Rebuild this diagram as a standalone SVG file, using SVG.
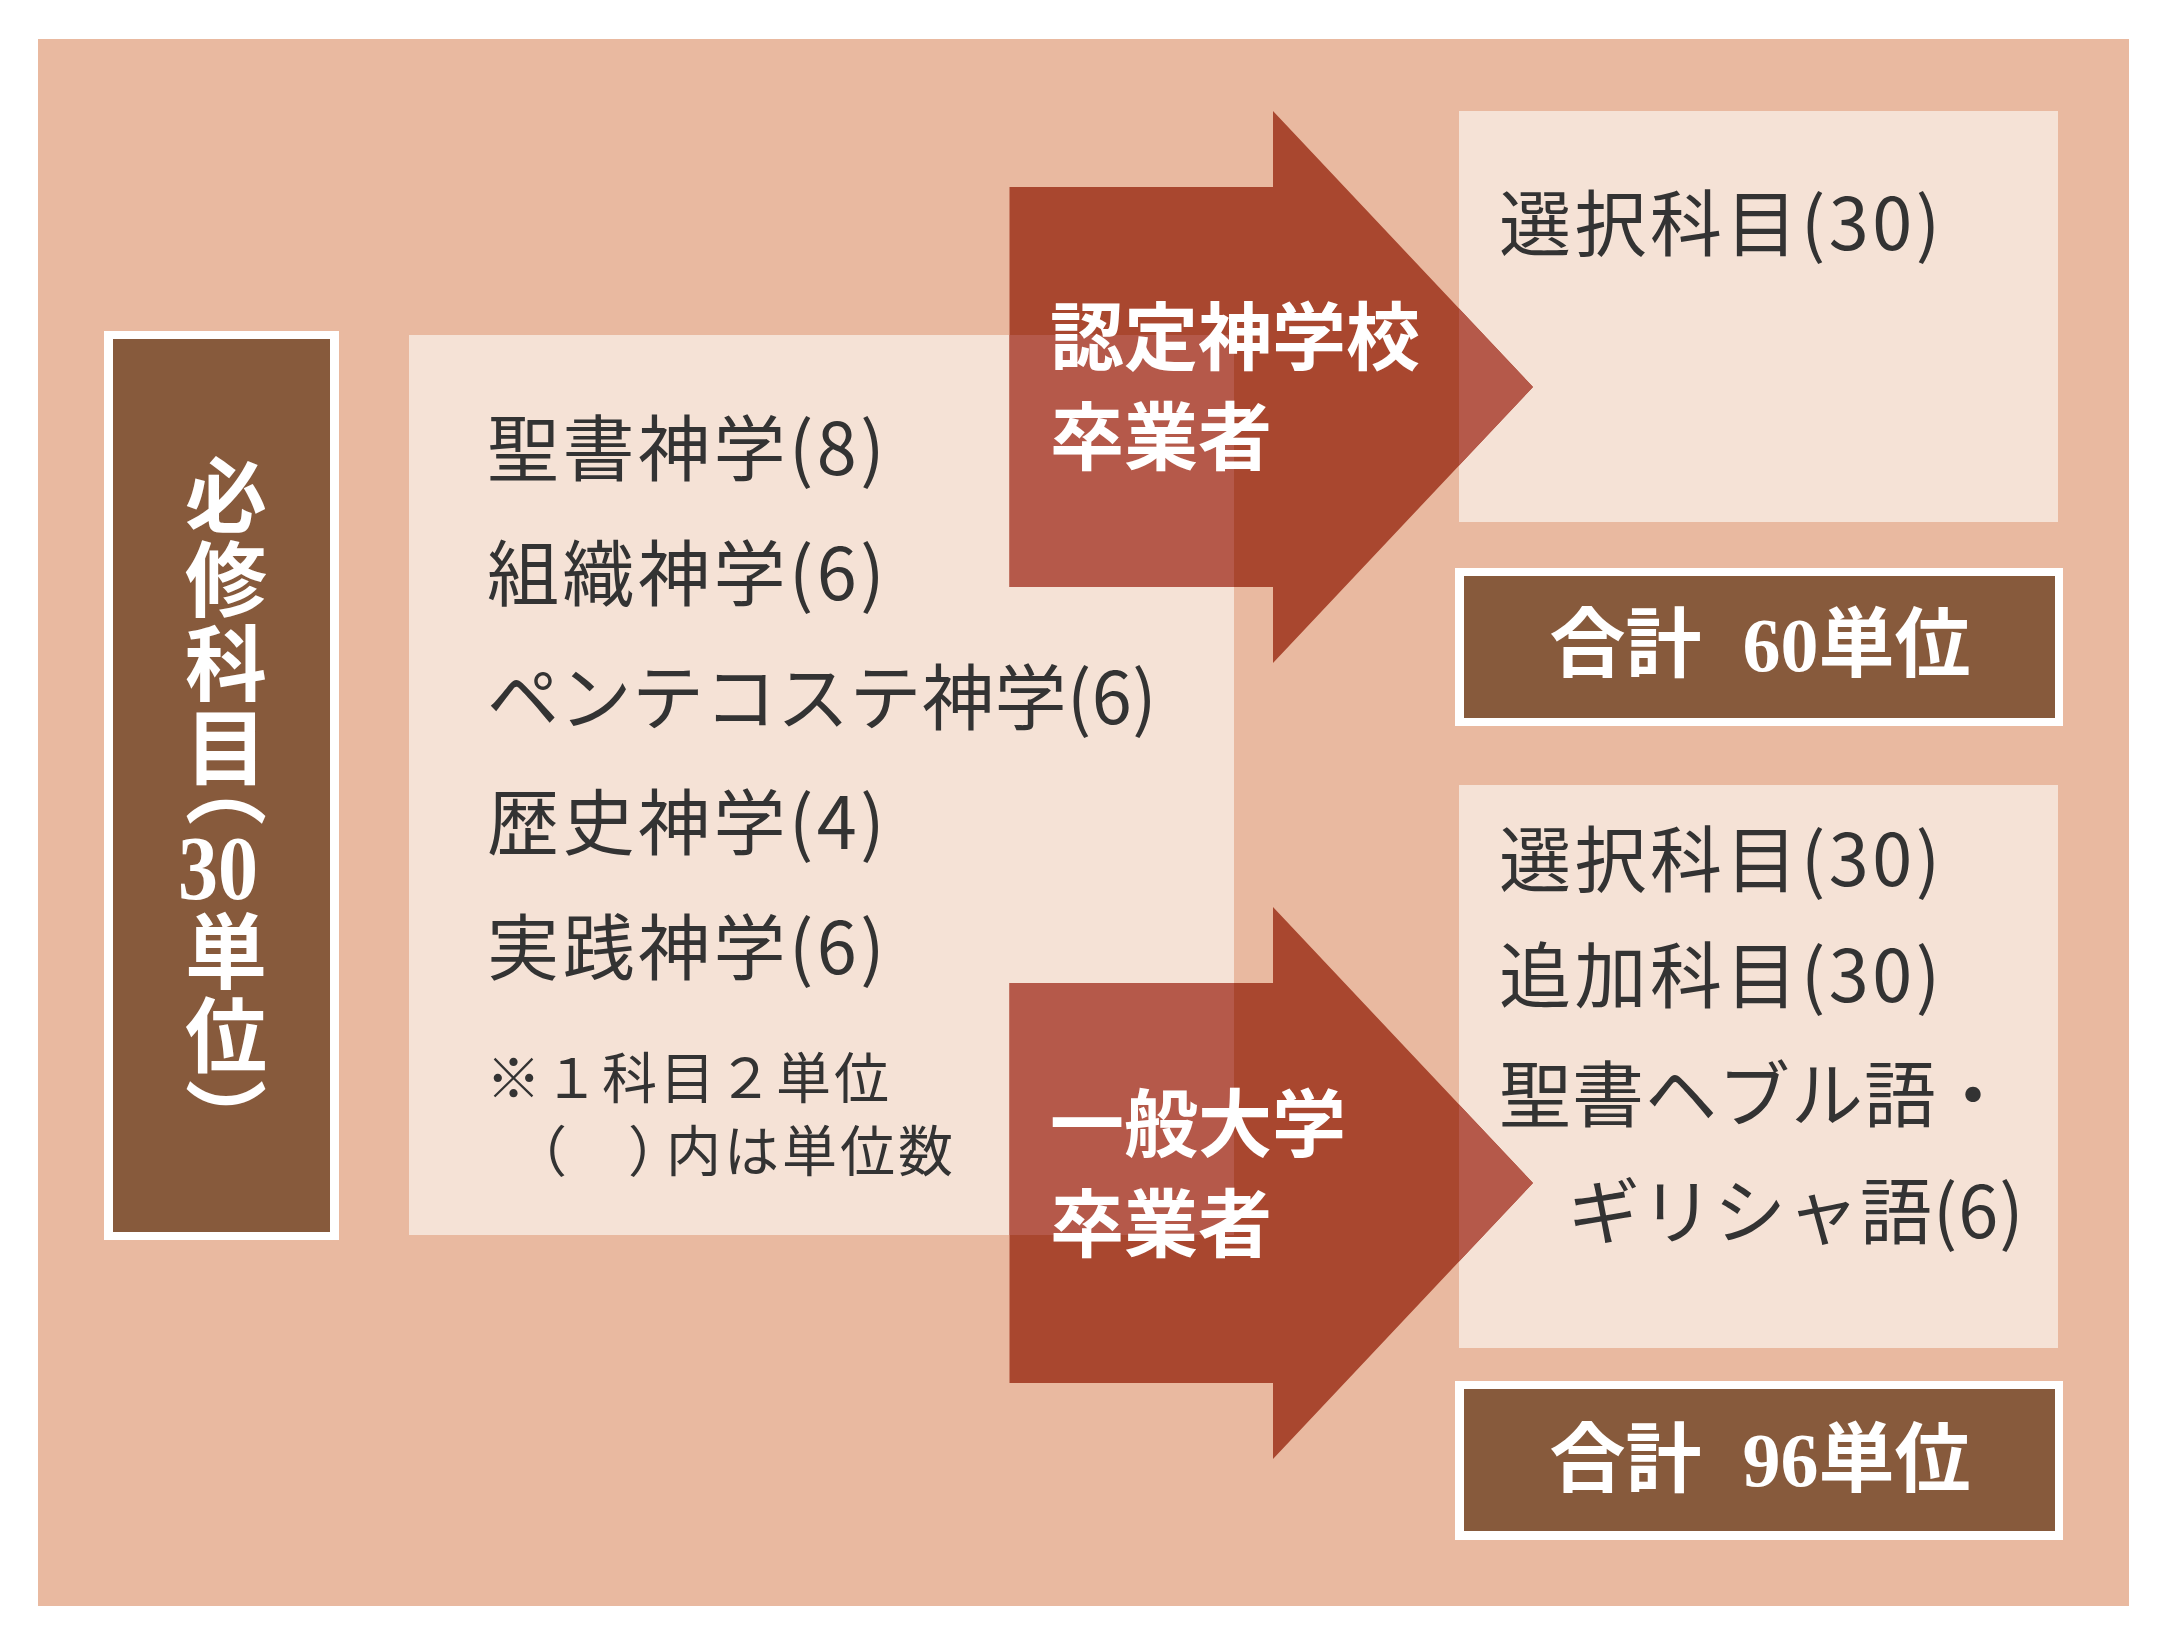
<svg xmlns="http://www.w3.org/2000/svg" width="2180" height="1649" viewBox="0 0 2180 1649">
<style>
.bg{fill:#E9B9A0}
.panel{fill:#F5E2D6}
.brown{fill:#875A3C}
.frame{fill:#FFFFFF}
.arrow{fill:#A9472F}
.lit{fill:#B5594A}
.t{font-family:"Noto Sans CJK JP","Noto Sans CJK SC",sans-serif;font-size:72px;fill:#333333;letter-spacing:3.5px}
.kana{letter-spacing:0.5px}
.tight{letter-spacing:1px}
.note{font-size:55px;letter-spacing:3px}
.w{font-family:"Liberation Serif","Noto Sans CJK JP",serif;font-weight:700;fill:#FFFFFF}
.lab{font-size:74px}
.tot{font-size:76px}
.vert{font-size:82px;writing-mode:vertical-rl;letter-spacing:2px}
</style>
<defs>
<path id="arrowTop" d="M1009.5,187 H1273 V111 L1533,387 L1273,663 V587 H1009.5 Z"/>
<path id="arrowBot" d="M1009.5,983 H1273 V907 L1533,1183 L1273,1459 V1383 H1009.5 Z"/>
<clipPath id="panelsClip">
<rect x="409" y="335" width="825" height="900"/>
<rect x="1459" y="111" width="599" height="411"/>
<rect x="1459" y="785" width="599" height="563"/>
</clipPath>
</defs>
<rect id="background" class="bg" x="38" y="39" width="2091" height="1567"/>
<g id="node-required">
<rect class="frame" x="104" y="331" width="235" height="909"/>
<rect class="brown" x="113" y="339" width="217" height="893"/>
<text class="w vert" x="218" y="454">必修科目</text>
<text class="w vert" x="218" y="745">（</text>
<text class="w" x="218" y="899" font-size="90" text-anchor="middle" textLength="80" lengthAdjust="spacingAndGlyphs">30</text>
<text class="w vert" x="218" y="910">単位</text>
<text class="w vert" x="218" y="1078">）</text>
</g>
<g id="node-core">
<rect class="panel" x="409" y="335" width="825" height="900"/>
<text class="t" x="487" y="475">聖書神学(8)</text>
<text class="t" x="487" y="600">組織神学(6)</text>
<text class="t kana" x="487" y="724">ペンテコステ神学(6)</text>
<text class="t" x="487" y="849">歴史神学(4)</text>
<text class="t" x="487" y="974">実践神学(6)</text>
<text class="t note" x="486" y="1098">※１科目２単位</text>
<text class="t note" x="494" y="1171" dx="18 0 0 -20">（　）内は単位数</text>
</g>
<g id="node-elective-a">
<rect class="panel" x="1459" y="111" width="599" height="411"/>
<text class="t" x="1499" y="250">選択科目(30)</text>
</g>
<g id="node-total-60">
<rect class="frame" x="1455" y="568" width="608" height="158"/>
<rect class="brown" x="1464" y="576" width="591" height="142"/>
<text class="w tot" x="1760" y="671" text-anchor="middle">合計 <tspan dx="22">60単位</tspan></text>
</g>
<g id="node-elective-b">
<rect class="panel" x="1459" y="785" width="599" height="563"/>
<text class="t" x="1499" y="886">選択科目(30)</text>
<text class="t" x="1499" y="1002">追加科目(30)</text>
<text class="t tight" x="1499" y="1121">聖書ヘブル語・</text>
<text class="t tight" x="1568" y="1238">ギリシャ語(6)</text>
</g>
<g id="node-total-96">
<rect class="frame" x="1455" y="1381" width="608" height="159"/>
<rect class="brown" x="1464" y="1389" width="591" height="142"/>
<text class="w tot" x="1760" y="1486" text-anchor="middle">合計 <tspan dx="22">96単位</tspan></text>
</g>
<g id="connectors">
<use href="#arrowTop" class="arrow"/>
<use href="#arrowTop" class="lit" clip-path="url(#panelsClip)"/>
<use href="#arrowBot" class="arrow"/>
<use href="#arrowBot" class="lit" clip-path="url(#panelsClip)"/>
<text class="w lab" x="1050" y="364">認定神学校</text>
<text class="w lab" x="1050" y="464">卒業者</text>
<text class="w lab" x="1050" y="1151">一般大学</text>
<text class="w lab" x="1050" y="1251">卒業者</text>
</g>
</svg>
